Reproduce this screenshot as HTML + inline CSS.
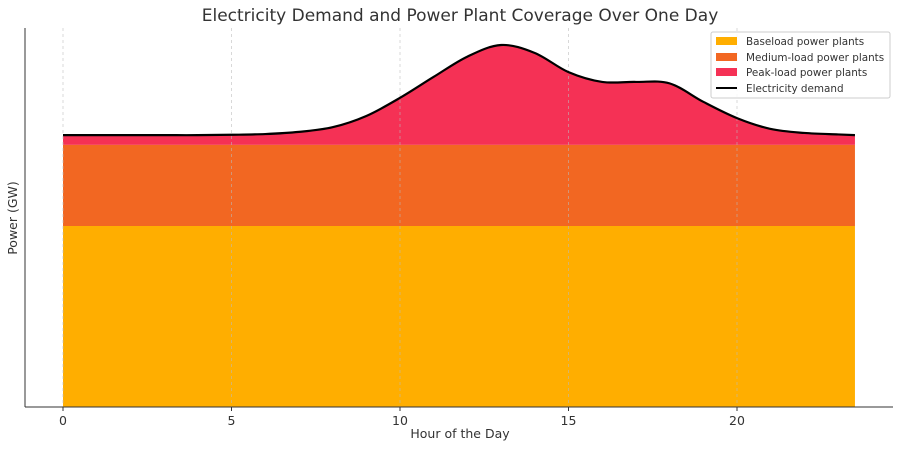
<!DOCTYPE html>
<html><head><meta charset="utf-8"><style>
body{margin:0;background:#fff;}
svg text{font-family:"DejaVu Sans","Liberation Sans",sans-serif;fill:#333;}
</style></head><body>
<svg id="chart" width="903" height="448" xmlns="http://www.w3.org/2000/svg">
<text x="460" y="21" text-anchor="middle" font-size="17">Electricity Demand and Power Plant Coverage Over One Day</text>
<g id="areas"></g>
<g id="grid"></g>
<path id="demand" fill="none" stroke="#000" stroke-width="2.2"/>
<line x1="25" y1="28" x2="25" y2="407" stroke="#333" stroke-width="1"/>
<line x1="25" y1="407" x2="893" y2="407" stroke="#333" stroke-width="1"/>
<g id="ticks"></g>
<text x="460" y="438" text-anchor="middle" font-size="12.5">Hour of the Day</text>
<text transform="translate(17,218) rotate(-90)" text-anchor="middle" font-size="12.5">Power (GW)</text>
<g>
<rect x="711" y="32" width="179" height="66" fill="#fff" fill-opacity="0.85" stroke="#ccc" stroke-width="1" rx="2"/>
<rect x="716" y="37" width="21" height="8" fill="#FFAE00"/>
<text x="746" y="45" font-size="10.4">Baseload power plants</text>
<rect x="716" y="53" width="21" height="8" fill="#F26722"/>
<text x="746" y="61" font-size="10.4">Medium-load power plants</text>
<rect x="716" y="68" width="21" height="8" fill="#F53155"/>
<text x="746" y="76" font-size="10.4">Peak-load power plants</text>
<line x1="716" y1="88" x2="737" y2="88" stroke="#000" stroke-width="2"/>
<text x="746" y="92" font-size="10.4">Electricity demand</text>
</g>
</svg>
<script>
const hours = [0,1,2,3,4,5,6,7,8,9,10,11,12,13,14,15,16,17,18,19,20,21,22,23,23.5];
const demand = [75.1,75.1,75.1,75.1,75.1,75.2,75.4,76.0,77.3,80.4,85.4,91.2,96.8,100,97.8,92.5,89.8,89.8,89.4,84.3,79.8,76.8,75.7,75.3,75.1];
const baseload = 50;
const mediumload = 72.4;
const xTicks = [0,5,10,15,20];
const X = h => 63 + h*33.7;
const Y = v => 407 - v*3.62;
const NS = "http://www.w3.org/2000/svg";
const grid = document.getElementById('grid'), ticks = document.getElementById('ticks'), areas = document.getElementById('areas');
xTicks.forEach(t=>{
  const l=document.createElementNS(NS,'line');
  
  
  l.setAttribute('x1',X(t));l.setAttribute('x2',X(t));l.setAttribute('y1',28);l.setAttribute('y2',407);
  l.setAttribute('stroke','#bbb');l.setAttribute('stroke-opacity','0.7');l.setAttribute('stroke-dasharray','3,3');l.setAttribute('stroke-width','0.8');
  grid.appendChild(l);
  const tk=document.createElementNS(NS,'line');
  
  
  tk.setAttribute('x1',X(t));tk.setAttribute('x2',X(t));tk.setAttribute('y1',407);tk.setAttribute('y2',411);tk.setAttribute('stroke','#333');
  ticks.appendChild(tk);
  const tx=document.createElementNS(NS,'text');
  
  
  tx.setAttribute('x',X(t));tx.setAttribute('y',425);tx.setAttribute('text-anchor','middle');tx.setAttribute('font-size','12.5');
  tx.textContent=t; ticks.appendChild(tx);
});
const pts = hours.map((h,i)=>[X(h),Y(demand[i])]);
function smooth(p){
  let d='M'+p[0][0]+','+p[0][1];
  for(let i=0;i<p.length-1;i++){
    const p0=p[Math.max(i-1,0)],p1=p[i],p2=p[i+1],p3=p[Math.min(i+2,p.length-1)];
    const c1=[p1[0]+(p2[0]-p0[0])/6,p1[1]+(p2[1]-p0[1])/6];
    const c2=[p2[0]-(p3[0]-p1[0])/6,p2[1]-(p3[1]-p1[1])/6];
    d+=' C'+c1[0]+','+c1[1]+' '+c2[0]+','+c2[1]+' '+p2[0]+','+p2[1];
  }
  return d;
}
const curve = smooth(pts);
const x0=X(hours[0]), x1=X(hours[hours.length-1]);
const peak=document.createElementNS(NS,'path');


peak.setAttribute('d',curve+' L'+x1+','+Y(mediumload)+' L'+x0+','+Y(mediumload)+' Z');
peak.setAttribute('fill','#F53155');
areas.appendChild(peak);
const med=document.createElementNS(NS,'rect');


med.setAttribute('x',x0);med.setAttribute('width',x1-x0);med.setAttribute('y',Y(mediumload));med.setAttribute('height',Y(baseload)-Y(mediumload));
med.setAttribute('fill','#F26722');
areas.appendChild(med);
const base=document.createElementNS(NS,'rect');


base.setAttribute('x',x0);base.setAttribute('width',x1-x0);base.setAttribute('y',Y(baseload));base.setAttribute('height',Y(0)-Y(baseload));
base.setAttribute('fill','#FFAE00');
areas.appendChild(base);
document.getElementById('demand').setAttribute('d',curve);
</script>
</body></html>
